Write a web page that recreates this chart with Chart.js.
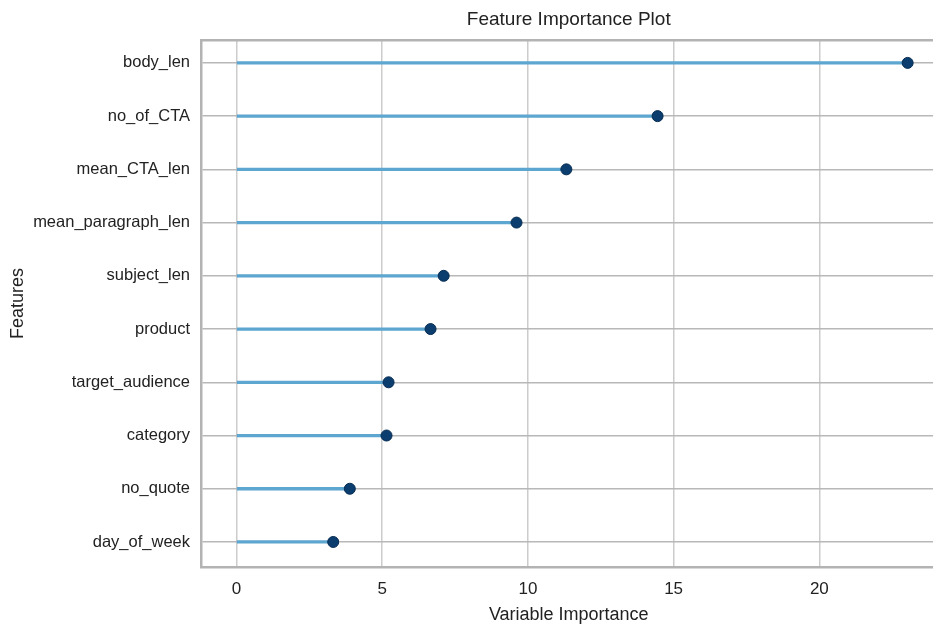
<!DOCTYPE html>
<html>
<head>
<meta charset="utf-8">
<title>Feature Importance Plot</title>
<script src="https://cdn.jsdelivr.net/npm/chart.js@4.4.0/dist/chart.umd.min.js"></script>
<style>
  html, body { margin: 0; padding: 0; background: #fff; overflow: hidden; }
  .wrap { position: relative; width: 943px; height: 626px; }
</style>
</head>
<body>
<div class="wrap"><canvas id="chart" width="943" height="626"></canvas></div>
<script>
  // feature names, top row first
  const features = [
    'body_len', 'no_of_CTA', 'mean_CTA_len', 'mean_paragraph_len', 'subject_len',
    'product', 'target_audience', 'category', 'no_quote', 'day_of_week',
  ];
  // importance
  const importance = [23.03, 14.45, 11.32, 9.61, 7.11, 6.66, 5.22, 5.15, 3.89, 3.32];
  const xTicks = [0, 5, 10, 15, 20];

  const FONT = "'Liberation Sans', Arial, sans-serif";
  const TEXT = '#222222';

  const points = importance.map((v, i) => ({ x: v, y: i }));

  new Chart(document.getElementById('chart'), {
    type: 'bar',
    data: {
      datasets: [
        {
          type: 'scatter',
          data: points,
          xAxisID: 'x', yAxisID: 'y',
          order: 0,
          pointRadius: 5.5,
          pointBackgroundColor: '#0b3d6e',
          pointBorderColor: '#072c52',
          pointBorderWidth: 1,
        },
        {
          type: 'bar',
          data: points,
          xAxisID: 'x', yAxisID: 'y',
          order: 1,
          barThickness: 2.6,
          backgroundColor: '#5ca6cf',
          borderWidth: 0,
        },
      ],
    },
    options: {
      indexAxis: 'y',
      responsive: false,
      animation: false,
      layout: { padding: 0 },
      plugins: { legend: { display: false }, tooltip: { enabled: false }, title: { display: false } },
      scales: {
        x: {
          type: 'linear',
          position: 'bottom',
          min: -1.216,
          max: 24.02,
          afterBuildTicks: s => { s.ticks = xTicks.map(v => ({ value: v })); },
          afterFit: s => { s.height = 59; },
          grid: { color: '#cccccc', lineWidth: 1.5, drawTicks: false },
          border: { display: true, color: '#b3b3b3', width: 2.5 },
          ticks: { padding: 12, color: TEXT, font: { family: FONT, size: 17 } },
          title: {
            display: true, text: 'Variable Importance', color: TEXT,
            font: { family: FONT, size: 18 }, padding: { top: 5, bottom: 0 },
          },
        },
        x2: {
          type: 'linear',
          position: 'top',
          afterFit: s => { s.height = 40; },
          grid: { display: false, drawTicks: false },
          border: { display: true, color: '#b3b3b3', width: 2.5 },
          ticks: { display: false },
          title: {
            display: true, text: 'Feature Importance Plot', color: TEXT,
            font: { family: FONT, size: 19 }, padding: { top: 8.6, bottom: 8.6 },
          },
        },
        y: {
          type: 'linear',
          position: 'left',
          reverse: true,
          offset: false,
          min: -0.43,
          max: 9.47,
          afterBuildTicks: s => { s.ticks = features.map((f, i) => ({ value: i })); },
          afterFit: s => { s.width = 201; },
          grid: { color: '#b8b8b8', lineWidth: 1.5, drawTicks: false, offset: false },
          border: { display: true, color: '#b3b3b3', width: 2.5 },
          ticks: {
            padding: 11, color: TEXT, font: { family: FONT, size: 16.5 },
            callback: v => features[v],
          },
          title: {
            display: true, text: 'Features', color: TEXT,
            font: { family: FONT, size: 18 }, padding: { top: 7, bottom: 0 },
          },
        },
      },
    },
  });
</script>
</body>
</html>
